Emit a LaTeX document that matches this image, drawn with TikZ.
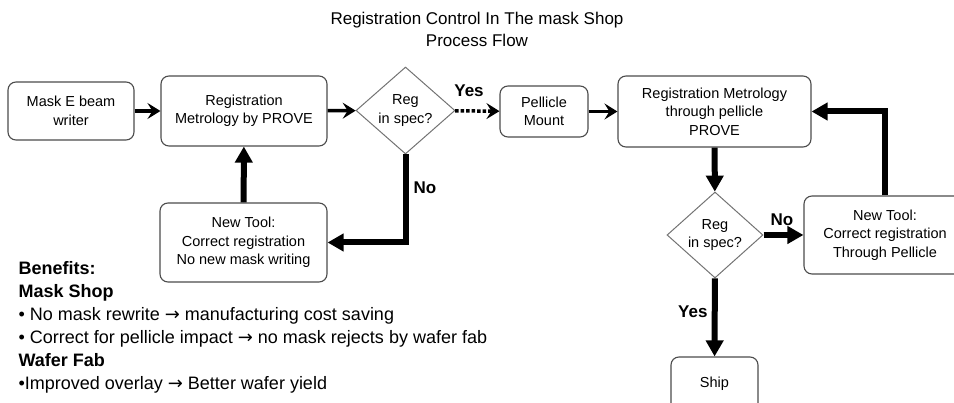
\documentclass[tikz,border=0pt]{standalone}
\usepackage{fontspec}
\setmainfont{Liberation Sans}
\newfontfamily\symfont{DejaVu Sans}
\newcommand{\rarr}{{\symfont →}}
\usetikzlibrary{arrows.meta,shapes.geometric}
\begin{document}
\begin{tikzpicture}[x=1pt,y=-1pt,
  box/.style={draw=black!70,line width=1.1pt,rounded corners=8pt,align=center,
    font=\fontsize{14.5}{18.5}\selectfont,inner sep=0pt},
  dia/.style={draw=black!55,line width=1pt,diamond,inner sep=0pt},
  thin/.style={line width=3.5pt,-{Stealth[length=13pt,width=16pt,inset=5pt]}},
  thick/.style={line width=6pt,-{Triangle[length=16pt,width=17pt]}},
  dots/.style={line width=3.5pt,dotted,-{Stealth[length=13pt,width=16pt,inset=5pt]}},
  lbl/.style={font=\fontsize{17}{20}\selectfont\bfseries},
]
\useasboundingbox (0,0) rectangle (954,403);
\node[align=center,font=\fontsize{17}{22}\selectfont] (title) at (477,29)
  {Registration Control In The mask Shop\\Process Flow};

\node[box,minimum width=126pt,minimum height=58pt] (A) at (71,111) {Mask E beam\\writer};
\node[box,minimum width=166pt,minimum height=70pt] (B) at (244,111) {Registration\\Metrology by PROVE};
\node[dia,minimum width=99pt,minimum height=87pt,
  label={[align=center,font=\fontsize{14.5}{18.5}\selectfont]center:Reg\\in spec?}] (D1) at (405.5,110.5) {};
\node[box,minimum width=167pt,minimum height=79pt] (C) at (243.5,242.5) {New Tool:\\Correct registration\\No new mask writing};
\node[box,minimum width=88pt,minimum height=51pt] (P) at (544,111.5) {Pellicle\\Mount};
\node[box,minimum width=193pt,minimum height=71pt] (E) at (714.5,111.5) {Registration Metrology\\through pellicle\\PROVE};
\node[dia,minimum width=96pt,minimum height=86pt,
  label={[align=center,font=\fontsize{14.5}{18.5}\selectfont]center:Reg\\in spec?}] (D2) at (715,235) {};
\node[box,minimum width=162pt,minimum height=78pt] (F) at (885,235) {New Tool:\\Correct registration\\Through Pellicle};
\node[box,minimum width=87pt,minimum height=54pt] (S) at (714.5,384) {Ship};

\draw[thin] (A) -- (B);
\draw[thin] (B) -- (D1);
\draw[dots] (D1) -- (P);
\draw[thin] (P) -- (E);
\draw[thick] (D1.south) |- (C.east);
\draw[thick] (C) -- (B);
\draw[thick] (E) -- (D2);
\draw[thick] (D2) -- (F);
\draw[thick] (D2) -- (S);
\draw[thick] (F.north) |- (E.east);

\node[lbl] (yes1) at (469,91) {Yes};
\node[lbl] (no1) at (425,188) {No};
\node[lbl] (no2) at (782,220) {No};
\node[lbl,anchor=east] (yes2) at (711,312) {Yes};

\node[anchor=west,align=left,font=\fontsize{18}{23}\selectfont] (ben) at (15,327.5)
  {\textbf{Benefits:}\\
   \textbf{Mask Shop}\\
   • No mask rewrite \rarr{} manufacturing cost saving\\
   • Correct for pellicle impact \rarr{} no mask rejects by wafer fab\\
   \textbf{Wafer Fab}\\
   •Improved overlay \rarr{} Better wafer yield};
\end{tikzpicture}
\end{document}
